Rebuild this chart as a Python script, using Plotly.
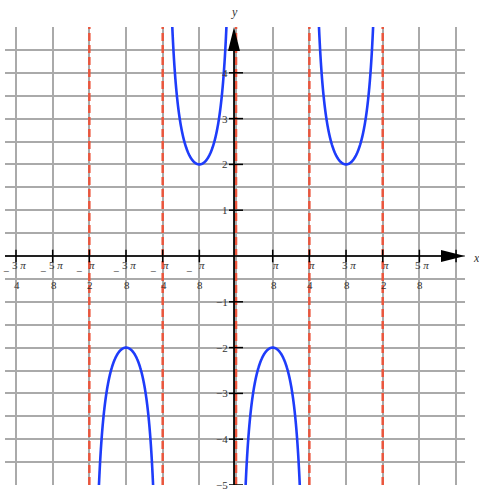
import numpy as np
import plotly.graph_objects as go

PI = np.pi
# Function shown: y = A * csc(B x)
AMPLITUDE = -2.0
FREQUENCY = 4.0
# branches drawn (between consecutive asymptotes)
BRANCHES = [(-PI / 2, -PI / 4), (-PI / 4, 0.0), (0.0, PI / 4), (PI / 4, PI / 2)]
# vertical asymptotes (red dashed)
ASYMPTOTES = [-PI / 2, -PI / 4, 0.0, PI / 4, PI / 2]

# axis ranges
X_RANGE = [-2.474, 2.452]
Y_RANGE = [-5.0, 5.0]

# ticks
X_TICK_MULTS = [-6, -5, -4, -3, -2, -1, 1, 2, 3, 4, 5, 6]  # multiples of pi/8
X_LABELS = {
    -6: ("3 π", "4", True), -5: ("5 π", "8", True), -4: ("π", "2", True),
    -3: ("3 π", "8", True), -2: ("π", "4", True), -1: ("π", "8", True),
    1: ("π", "8", False), 2: ("π", "4", False), 3: ("3 π", "8", False),
    4: ("π", "2", False), 5: ("5 π", "8", False),
}
Y_TICKS = [-5, -4, -3, -2, -1, 1, 2, 3, 4]
Y_LABELS = ["−5", "−4", "−3", "−2", "−1", "1", "2", "3", "4"]

BLUE = "rgb(30,60,250)"
RED = "rgb(235,85,60)"
GRID = "#aaaaaa"
FONT = "Liberation Serif"

fig = go.Figure()

# red asymptotes
for a in ASYMPTOTES:
    fig.add_trace(go.Scatter(x=[a, a], y=Y_RANGE, mode="lines",
                             line=dict(color=RED, width=2.5, dash="8px,4px"),
                             hoverinfo="skip", showlegend=False))

# x axis line
fig.add_trace(go.Scatter(x=[X_RANGE[0], X_RANGE[1] - 0.1], y=[0, 0], mode="lines",
                         line=dict(color="#222222", width=1.8), hoverinfo="skip", showlegend=False))

# curve branches
for lo, hi in BRANCHES:
    t = np.linspace(0.0, 1.0, 800)
    xs = lo + 0.025 + (hi - lo - 0.05) * t
    ys = AMPLITUDE / np.sin(FREQUENCY * xs)
    fig.add_trace(go.Scatter(x=xs, y=ys, mode="lines", line_shape="spline",
                             line=dict(color=BLUE, width=2.6), hoverinfo="skip", showlegend=False))

# tick marks
xt = [m * PI / 8 for m in X_TICK_MULTS]
fig.add_trace(go.Scatter(x=xt, y=[0] * len(xt), mode="markers",
                         marker=dict(symbol="line-ns", size=9, line=dict(color="black", width=1.5)),
                         hoverinfo="skip", showlegend=False))
fig.add_trace(go.Scatter(x=[0] * len(Y_TICKS), y=Y_TICKS, mode="markers",
                         marker=dict(symbol="line-ew", size=10, line=dict(color="black", width=1.5)),
                         hoverinfo="skip", showlegend=False))

annotations = []
for m in X_TICK_MULTS:
    if m not in X_LABELS:
        continue
    num, den, neg = X_LABELS[m]
    xv = m * PI / 8
    num_txt = num.replace("π", "<i>π</i>")
    annotations.append(dict(x=xv, y=0, text=num_txt, showarrow=False, xanchor="center",
                            yanchor="middle", xshift=3, yshift=-9,
                            font=dict(family=FONT, size=11, color="#333")))
    annotations.append(dict(x=xv, y=0, text=den, showarrow=False, xanchor="center",
                            yanchor="middle", xshift=1, yshift=-29,
                            font=dict(family=FONT, size=11, color="#333")))
    if neg:
        annotations.append(dict(x=xv, y=0, text="−", showarrow=False, xanchor="center",
                                yanchor="middle", xshift=-10, yshift=-15,
                                font=dict(family=FONT, size=11, color="#333")))

for v, lab in zip(Y_TICKS, Y_LABELS):
    annotations.append(dict(x=0, y=v, text=lab, showarrow=False, xanchor="right",
                            yanchor="middle", xshift=-6,
                            font=dict(family=FONT, size=11, color="#333")))

annotations.append(dict(x=X_RANGE[1], y=0, text="<i>x</i>", showarrow=False, xanchor="left",
                        yanchor="middle", xshift=6, yshift=-2,
                        font=dict(family=FONT, size=12, color="#333")))
annotations.append(dict(x=0, y=Y_RANGE[1], text="<i>y</i>", showarrow=False, xanchor="center",
                        yanchor="bottom", yshift=6, xshift=-2,
                        font=dict(family=FONT, size=12, color="#333")))

shapes = [
    # y axis line (slightly left of the x=0 asymptote)
    dict(type="line", xref="x", yref="y", xsizemode="pixel", xanchor=0, x0=-2, x1=-2,
         y0=Y_RANGE[0], y1=Y_RANGE[1] - 0.3, line=dict(color="black", width=1.8), layer="above"),
    dict(type="path", xref="x", yref="y", xsizemode="pixel", ysizemode="pixel",
         xanchor=X_RANGE[1], yanchor=0, path="M0,0 L-24,6 L-24,-6 Z",
         fillcolor="black", line=dict(width=0), layer="above"),
    dict(type="path", xref="x", yref="y", xsizemode="pixel", ysizemode="pixel",
         xanchor=0, yanchor=Y_RANGE[1], path="M-2,0 L-8,-24 L4,-24 Z",
         fillcolor="black", line=dict(width=0), layer="above"),
]

fig.update_layout(
    width=479, height=491,
    margin=dict(l=5, r=14, t=27, b=6),
    plot_bgcolor="white", paper_bgcolor="white",
    showlegend=False,
    annotations=annotations,
    shapes=shapes,
    xaxis=dict(range=X_RANGE, tickvals=[m * PI / 8 for m in range(-6, 7)],
               showticklabels=False, ticks="", showgrid=True, gridcolor=GRID, gridwidth=1.5,
               zeroline=False, showline=False, fixedrange=True),
    yaxis=dict(range=Y_RANGE, dtick=0.5, tick0=0, showticklabels=False, ticks="",
               showgrid=True, gridcolor=GRID, gridwidth=1.5,
               zeroline=False, showline=False, fixedrange=True),
)

fig.write_html("out.html", config={"displayModeBar": False},
               post_script="document.body.style.margin='0';document.body.style.overflow='hidden';")
